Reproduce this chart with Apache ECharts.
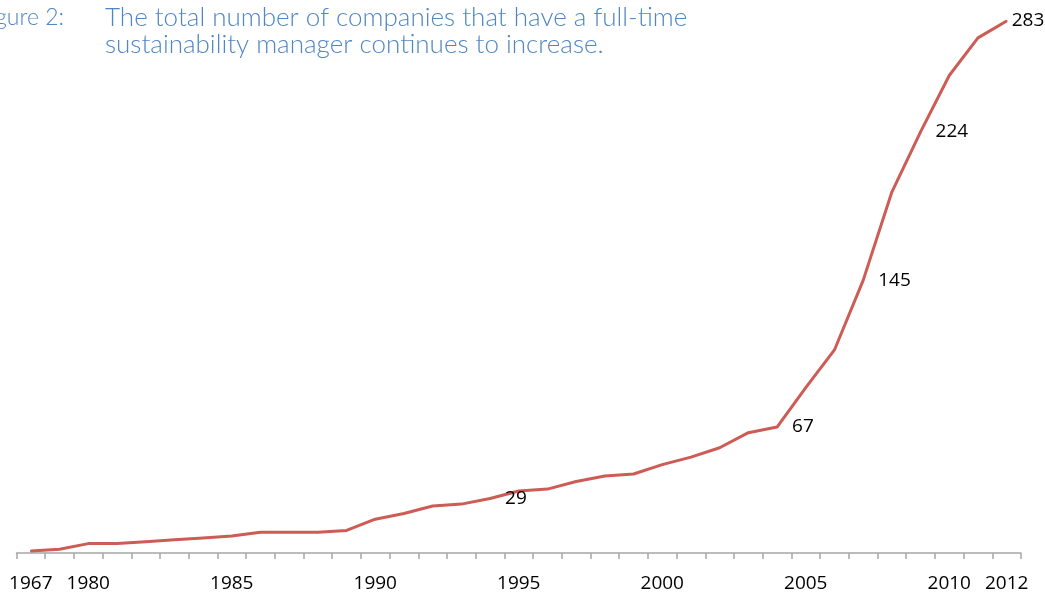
<!DOCTYPE html>
<html>
<head>
<meta charset="utf-8">
<script src="https://cdn.jsdelivr.net/npm/echarts@6/dist/echarts.min.js"></script>
<style>
  html, body { margin: 0; padding: 0; background: #ffffff; }
  #chart { width: 1045px; height: 593px; }
</style>
</head>
<body>
<div id="chart"></div>
<script>
// Year ticks along the bottom; blank entries are ticks without a printed year.
const categories = [
  '1967', '', '1980', '', '', '', '', '1985', '', '', '', '', '1990',
  '', '', '', '', '1995', '', '', '', '', '2000', '', '', '', '',
  '2005', '', '', '', '', '2010', '', '2012'
];

// Cumulative number of companies with a full-time sustainability manager.
const managers = [
  1, 2, 5, 5, 6, 7, 8, 9, 11, 11, 11, 12, 18,
  21, 25, 26, 29, 33, 34, 38, 41, 42, 47, 51, 56, 64, 67,
  88, 108, 145, 192, 224, 254, 274, 283
];

// Points that carry a value label.
const labelledPoints = [16, 26, 29, 31, 34];

const titleLines = [
  'The total number of companies that have a full-time',
  'sustainability manager continues to increase.'
];
const figureTag = 'Figure 2:';

const chart = echarts.init(document.getElementById('chart'), null, { renderer: 'canvas' });

const lineColor = '#cd5c55';
const lastIndex = managers.length - 1;

const seriesData = managers.map((v, i) => {
  const shown = labelledPoints.includes(i);
  const label = { show: shown };
  if (shown) {
    // the final label sits closer to the line end so it stays inside the canvas
    label.distance = i === lastIndex ? 4 : 14;
    label.offset = [0, i === lastIndex ? 2 : 4];
  }
  return { value: v, label };
});

const titleColor = '#4f86c4';
const titleFont = 'Lato, "Open Sans", sans-serif';

chart.setOption({
  animation: false,
  backgroundColor: '#ffffff',
  grid: { left: 16.5, right: 24, top: 7.8, bottom: 39.7, containLabel: false },
  xAxis: {
    type: 'category',
    data: categories,
    boundaryGap: true,
    axisLine: { show: true, lineStyle: { color: '#a6a6a6', width: 1.5 } },
    axisTick: { show: true, interval: 0, length: 6, lineStyle: { color: '#a6a6a6', width: 1.5 } },
    axisLabel: {
      interval: 0,
      color: '#000000',
      fontSize: 19,
      fontFamily: '"Open Sans", sans-serif',
      margin: 21
    },
    splitLine: { show: false }
  },
  yAxis: {
    type: 'value',
    min: 0,
    max: 290,
    show: false,
    splitLine: { show: false }
  },
  series: [{
    type: 'line',
    data: seriesData,
    symbol: 'circle',
    symbolSize: 2,
    showSymbol: true,
    showAllSymbol: true,
    lineStyle: { color: lineColor, width: 3 },
    itemStyle: { color: lineColor, borderWidth: 0 },
    label: {
      show: false,
      position: 'right',
      color: '#000000',
      fontSize: 19,
      fontFamily: '"Open Sans", sans-serif'
    },
    labelLayout: { hideOverlap: false }
  }],
  graphic: [
    {
      type: 'text',
      right: 1045 - 64,
      top: 6,
      style: {
        text: figureTag,
        fill: titleColor,
        font: '300 23px ' + titleFont
      }
    },
    {
      type: 'text',
      left: 105,
      top: 4,
      style: {
        text: titleLines.join('\n'),
        fill: titleColor,
        font: '300 26px ' + titleFont,
        lineHeight: 27
      }
    }
  ]
});
</script>
</body>
</html>
